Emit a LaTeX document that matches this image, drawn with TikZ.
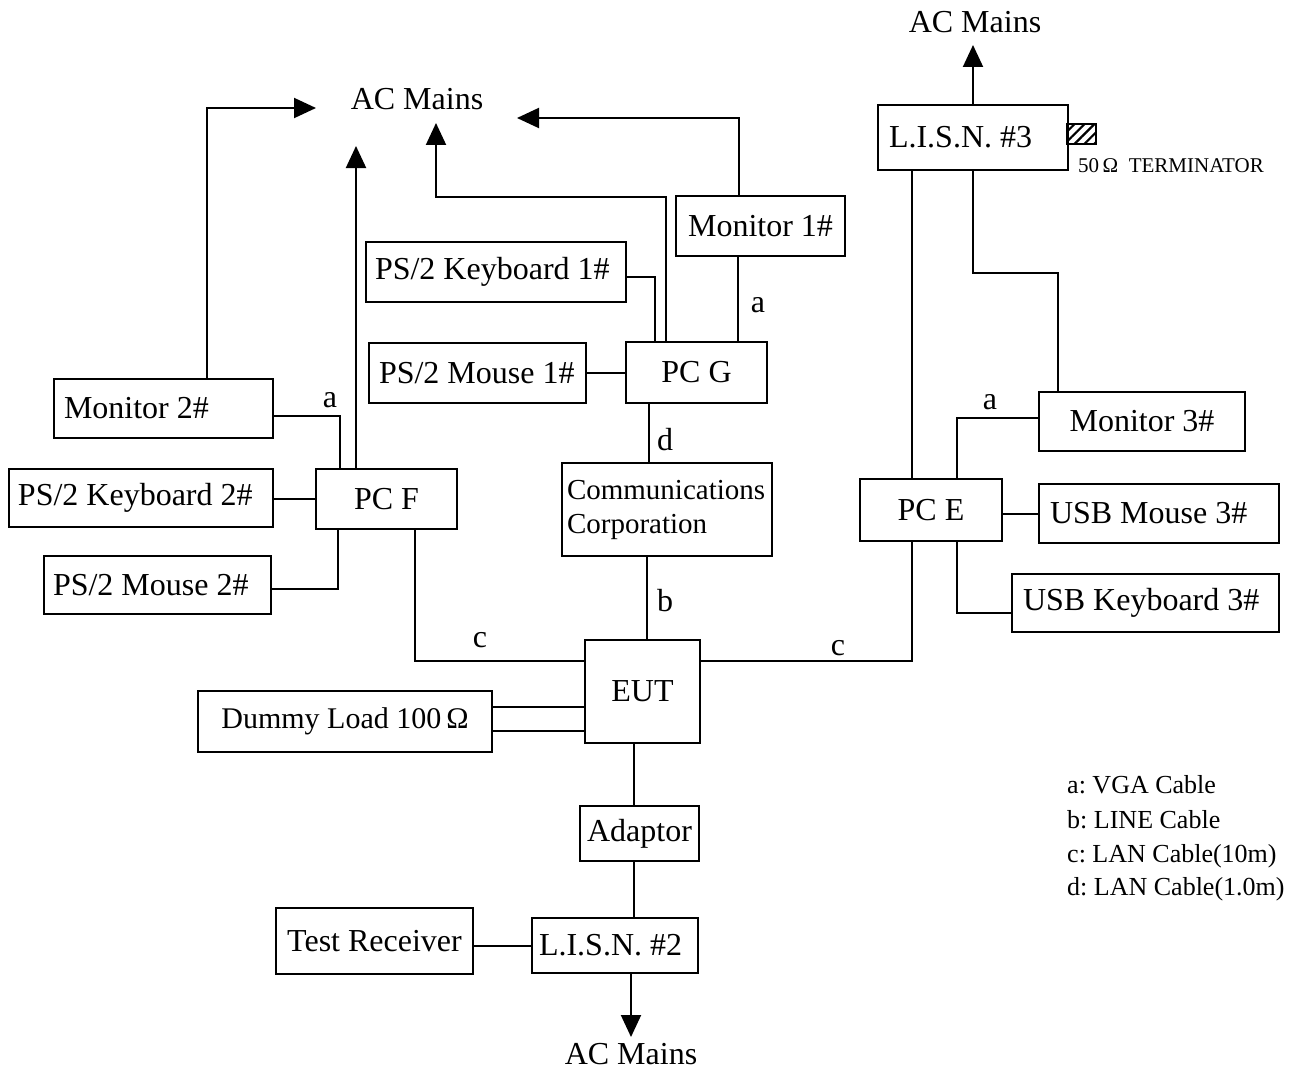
\documentclass[tikz,border=0pt]{standalone}
\usepackage{fontspec}
\setmainfont{Liberation Serif}
\usetikzlibrary{arrows.meta,patterns.meta,calc}
\frenchspacing
\begin{document}
\frenchspacing
\begin{tikzpicture}[x=1pt,y=-1pt,
  every node/.style={font=\fontsize{32}{36}\selectfont},
  box/.style={draw,line width=2pt,inner sep=0pt,outer sep=0pt,anchor=north west},
  lbox/.style={box,align=flush left,inner xsep=0pt,text width=#1},
  wire/.style={line width=2pt},
  arr/.style={wire,-{Triangle[length=22pt,width=20pt]}},
  lab/.style={inner sep=0pt},
  legend/.style={inner sep=0pt,anchor=base west,font=\fontsize{26}{30}\selectfont}]
\useasboundingbox (0,0) rectangle (1306,1070);

% ---- text-only nodes
\node[lab] (acT) at (975,22) {AC Mains};
\node[lab] (acM) at (417,99) {AC Mains};
\node[lab] (acB) at (631,1054) {AC Mains};

% ---- boxes
\node[lbox=190pt,minimum height=65pt] (lisn3) at (878,105) {\hspace*{11pt}L.I.S.N. \#3};
\node[draw,line width=1.5pt,inner sep=0pt,outer sep=0pt,anchor=north west,
      minimum width=29pt,minimum height=20pt,
      pattern={Lines[angle=45,distance=7pt,line width=2.2pt]}] (term) at (1067,124) {};
\node[lab,anchor=base west,font=\fontsize{21}{24}\selectfont] (termtxt) at (1078,172) {50\,Ω\ \ TERMINATOR};

\node[box,minimum width=169pt,minimum height=60pt] (mon1) at (676,196) {Monitor 1\#};
\node[lbox=260pt,minimum height=60pt] (kb1) at (366,242) {\hspace*{9pt}PS/2 Keyboard 1\#};
\node[lbox=217pt,minimum height=60pt] (ms1) at (369,343) {\hspace*{10pt}PS/2 Mouse 1\#};
\node[box,minimum width=141pt,minimum height=61pt] (pcg) at (626,342) {PC G};
\node[lbox=210pt,minimum height=93pt,font=\fontsize{29}{34}\selectfont] (comm) at (562,463) {\hspace*{5pt}Communications\\\hspace*{5pt}Corporation};

\node[lbox=219pt,minimum height=59pt] (mon2) at (54,379) {\hspace*{10pt}Monitor 2\#};
\node[box,minimum width=141pt,minimum height=60pt] (pcf) at (316,469) {PC F};
\node[lbox=264pt,minimum height=58pt] (kb2) at (9,469) {\hspace*{9pt}PS/2 Keyboard 2\#};
\node[lbox=227pt,minimum height=58pt] (ms2) at (44,556) {\hspace*{9pt}PS/2 Mouse 2\#};

\node[box,minimum width=142pt,minimum height=62pt] (pce) at (860,479) {PC E};
\node[box,minimum width=206pt,minimum height=59pt] (mon3) at (1039,392) {Monitor 3\#};
\node[lbox=240pt,minimum height=59pt] (um3) at (1039,484) {\hspace*{11pt}USB Mouse 3\#};
\node[lbox=267pt,minimum height=58pt] (uk3) at (1012,574) {\hspace*{11pt}USB Keyboard 3\#};

\node[box,minimum width=115pt,minimum height=103pt] (eut) at (585,640) {EUT};
\node[box,minimum width=294pt,minimum height=61pt,font=\fontsize{30}{34}\selectfont] (dummy) at (198,691) {Dummy Load 100\,Ω};
\node[box,minimum width=119pt,minimum height=55pt] (adaptor) at (580,806) {Adaptor};
\node[lbox=166pt,minimum height=55pt] (lisn2) at (532,918) {\hspace*{7pt}L.I.S.N. \#2};
\node[box,minimum width=197pt,minimum height=66pt] (test) at (276,908) {Test Receiver};

% ---- arrow tips
\coordinate (tipL3) at (973,45);
\coordinate (tipM1) at (517,118);
\coordinate (tipG) at (436,123);
\coordinate (tipF) at (356,146);
\coordinate (tipM2) at (316,108);
\coordinate (tipL2) at (631,1037);

% ---- connectors, right part
\draw[arr] (lisn3.north) -- (tipL3);
\draw[wire] ([xshift=33.5pt]lisn3.south west) -- ([xshift=51.5pt]pce.north west);
\draw[wire] ([xshift=51.5pt]pce.south west) |- ([yshift=-21pt]eut.north east);
\draw[wire] ([xshift=19pt]mon3.north west) -- ++(0,-119) -| (lisn3.south);
\draw[wire] ([xshift=97pt]pce.north west) |- ([yshift=3.5pt]mon3.west);
\draw[wire] (um3.west) -- (um3.west -| pce.east);
\draw[wire] ([xshift=97pt]pce.south west) |- ([yshift=-10pt]uk3.west);

% ---- PC G group
\draw[arr] ([xshift=63pt]mon1.north west) |- (tipM1);
\draw[wire] ([xshift=62pt]mon1.south west) -- ([xshift=112pt]pcg.north west);
\draw[wire] ([yshift=-5pt]kb1.east) -| ([xshift=29pt]pcg.north west);
\draw[arr] ([xshift=40pt]pcg.north west) -- ++(0,-145) -| (tipG);
\draw[wire] (ms1.east) -- (ms1.east -| pcg.west);
\draw[wire] ([xshift=23pt]pcg.south west) -- ([xshift=87pt]comm.north west);
\draw[wire] ([xshift=85pt]comm.south west) -- ([xshift=62pt]eut.north west);

% ---- PC F group
\draw[wire] ([xshift=99pt]pcf.south west) |- ([yshift=-21pt]eut.north west);
\draw[arr] ([xshift=40pt]pcf.north west) -- (tipF);
\draw[arr] ([xshift=153pt]mon2.north west) |- (tipM2);
\draw[wire] ([yshift=-7.5pt]mon2.east) -| ([xshift=24pt]pcf.north west);
\draw[wire] (pcf.west) -- (pcf.west -| kb2.east);
\draw[wire] ([yshift=-4pt]ms2.east) -| ([xshift=22pt]pcf.south west);

% ---- EUT bottom group
\draw[wire] ([yshift=-16pt]dummy.north east) -- ([yshift=-67pt]eut.north west);
\draw[wire] ([yshift=-40pt]dummy.north east) -- ([yshift=-91pt]eut.north west);
\draw[wire] ([xshift=49pt]eut.south west) -- ([xshift=54pt]adaptor.north west);
\draw[wire] ([xshift=54pt]adaptor.south west) -- ([xshift=102pt]lisn2.north west);
\draw[wire] (lisn2.west) -- (lisn2.west -| test.east);
\draw[arr] ([xshift=99pt]lisn2.south west) -- (tipL2);

% ---- cable labels
\node[lab] (la1) at (758,305) {a};
\node[lab] (la2) at (330,400) {a};
\node[lab] (la3) at (990,402) {a};
\node[lab] (lb) at (665,601) {b};
\node[lab] (lc1) at (480,640) {c};
\node[lab] (lc2) at (838,648) {c};
\node[lab] (ld) at (665,440) {d};

% ---- legend
\node[legend] (lg1) at (1067,793) {a: VGA Cable};
\node[legend] (lg2) at (1067,828) {b: LINE Cable};
\node[legend] (lg3) at (1067,862) {c: LAN Cable(10m)};
\node[legend] (lg4) at (1067,895) {d: LAN Cable(1.0m)};
\end{tikzpicture}
\end{document}
